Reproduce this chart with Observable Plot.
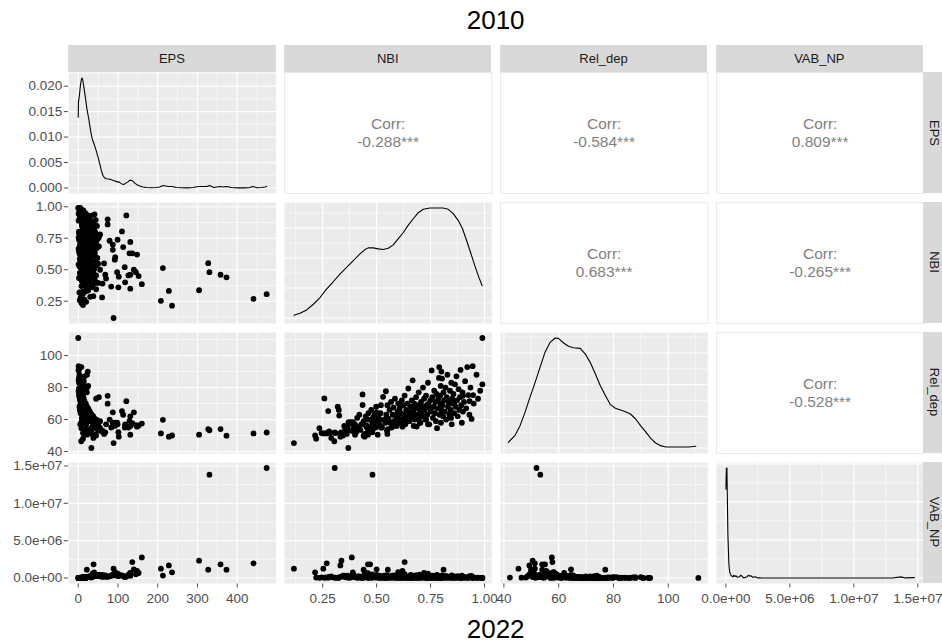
<!DOCTYPE html>
<html>
<head>
<meta charset="utf-8">
<script src="https://cdn.jsdelivr.net/npm/d3@7"></script>
<script src="https://cdn.jsdelivr.net/npm/@observablehq/plot@0.6"></script>
<style>
html,body{margin:0;padding:0;background:#fff;}
#root{position:relative;width:942px;height:643px;overflow:hidden;font-family:"Liberation Sans",Arial,sans-serif;}
.strip{position:absolute;background:#D9D9D9;color:#1A1A1A;font-size:13px;}
.stripTop{display:flex;align-items:center;justify-content:center;}
.stripRight span{position:absolute;left:11.4px;top:50%;transform:translate(-50%,-50%) rotate(90deg);white-space:nowrap;line-height:13px;}
.title{position:absolute;left:68.3px;width:854.7px;text-align:center;font-size:26px;line-height:24px;color:#000;}
</style>
</head>
<body>
<div id="root"></div>
<script>
// ---------------- data ----------------
const VARS = ["EPS", "NBI", "Rel_dep", "VAB_NP"];
const TITLE_TOP = "2010";
const TITLE_BOTTOM = "2022";

const EPS = [
  0,474,330,441,373,358,327,304,236,228, 213,208,160,152,140,136,129,131,131,126,
  131,121,110,102,101,99,93,89,87,87, 83,79,74,74,70,68,60,61,65,117, 98,92,113,148,145,118,
  12,8,20,4,15,6,30,38,7.5,12, 3,10,18,25,45,20,35,33,8,14, 28,40,50,22,16,9,42,12,30,5,
  2,8,24,36,18,45,10,6,28,38.5, 4,32,14,20,26,38,11,55,40,17, 9,22,5,34,3,46,13,1,29,7,
  50,19,11,36,6,44,24,15,31,4, 21,48,9,13,27,8,39,17,5,23, 12,33,3,42,19,28,9,2,15,37,
  10,25,7,1,20,47,14,32,18,6, 52,27,11,4,35,22,44,9,24,16, 19,35,45,19,41,5,13,29,2,11,
  49,21,14,27,1,52,39,17,12,30, 10,46,6,55,23,12,2,8,34,15, 25,26,24,43,9,2,18,37,21.7,11,
  28,15,40,13,22,20,16,32,18,24, 10,47,10,35,19,9,30,12,22,16, 14,38,20,26,12,1,17,44,10,29,
  15,14,25,4,8,33,22,41,1,11, 18,3,13,7,5
];
const NBI = [
  .99,.306,.481,.269,.44,.46,.552,.337,.215,.332, .513,.253,.385,.45,.50,.63,.63,.72,.46,.455,
  .35,.931,.804,.445,.36,.738,.60,.117,.658,.70, .366,.73,.90,.86,.43,.46,.28,.39,.55,.52, .48,.58,.68,.62,.48,.40,
  .22,.235,.245,.258,.265,.276,.285,.29,.304,.31, .32,.325,.327,.335,.345,.355,.362,.369,.37,.38,
  .385,.39,.395,.40,.405,.41,.415,.42,.425,.43, .435,.435,.44,.445,.45,.455,.46,.462,.468,.47,
  .475,.48,.483,.487,.49,.495,.498,.50,.505,.51, .513,.518,.52,.525,.53,.535,.54,.543,.545,.55,
  .548,.555,.56,.562,.567,.57,.575,.578,.58,.585, .59,.593,.597,.60,.603,.607,.61,.613,.617,.62,
  .623,.627,.63,.633,.637,.64,.643,.647,.65,.653, .657,.66,.663,.667,.67,.672,.675,.678,.68,.683,
  .686,.69,.692,.695,.697,.70,.703,.706,.709,.712, .715,.718,.72,.723,.726,.729,.732,.735,.738,.741,
  .744,.747,.749,.752,.755,.758,.761,.764,.767,.77, .772,.775,.778,.78,.783,.786,.789,.79,.792,.795,
  .797,.80,.80,.798,.795,.803,.806,.808,.81,.813, .816,.819,.822,.825,.828,.831,.834,.837,.84,.843,
  .846,.848,.85,.845,.853,.856,.86,.863,.866,.87, .873,.876,.88,.883,.886,.889,.892,.895,.898,.90,
  .905,.91,.915,.92,.925,.93,.935,.94,.945,.947, .95,.963,.97,.98,.99
];
const REL = [
  111,51.9,53.3,51.3,49.9,54,54,50.5,50,49.3, 59.8,51.3,57.5,56.3,64.5,57.7,59.2,62,50.5,55,
  56,71.5,65.3,49.3,52.1,57,58,45.3,64.5,58, 55,60,74.8,69.9,57,52,52.5,53,51,55, 58,56,63,55.5,56.5,57,
  48,54.6,51.5,73.2,51.5,65.3,51.8,48.5,46.4,51.5, 68,66,62.5,52,50,54,51,42.2,58.3,58.3,
  53,58.3,55,50.5,52,61,55,63,53.5,57, 75.7,69.1,59,51,62,56,60,64,54,55,
  66,52,61,57,63,55,68,59,50.5,61, 57,64,69,55,74.2,60,58,77.7,63,69,
  53,60.5,66,58,71,55,63,67.5,59,73, 62,56,65,70,61,67,58,64,72,60,
  69,63,75,57,66,61.5,70,79.4,64.5,59, 68,62,72,84.5,65,56,70,60,67,74,
  55.6,63,69,77,61,66,58,71,64,68, 80,62,73,66,60,75,69,63,83,70,
  57,67,72,65,90.7,74,61,68,78,64, 71,59,76,54.6,67,73,86,92.8,63,70,
  81,66,90,58,75,85.6,69,62,77,72, 65,80,60,74,88,68,71,63,78,66,
  83,57,73,61,70,76,64,82,68,87, 72,62,79,66,74,91,69,58,77,65,
  71,84,67,92.8,75.3,63,80,60.4,93.4,75.3, 70,88,73,78,82
];
const VAB = [
  5e3,1.473e7,1.384e7,1.96e6,1.12e6,1.83e6,1.12e6,2.32e6,7.6e5,1.69e6, 3.2e5,1.25e6,2.76e6,6.7e5,1.16e6,2.14e6,5.2e5,7e5,6.5e5,4.2e5,
  3e5,2e5,3.5e5,4.8e5,2.5e5,6e5,8e5,1.25e6,4e5,4.5e5, 3e5,2.5e5,1.5e5,2.2e5,1.8e5,3.5e5,1.5e5,4.2e5,2e5,1.5e5, 4e5,3.5e5,2.8e5,9.5e5,5e5,1.2e5,
  6e4,3e4,9e4,2e4,8e4,4e4,1.5e5,2e5,4e4,6e4, 1.5e4,5e4,9e4,1.8e5,3.3e5,1e5,2.2e5,6e4,4e4,7e4,
  1.4e5,7.6e5,2.8e5,1.2e5,9e4,3e4,2.6e5,5e4,1.7e5,2.5e4, 1e4,3e4,1.4e5,6e5,8e4,3e5,5e4,3e4,2e5,1.83e6,
  2e4,1.8e5,6e4,1.1e5,1.3e5,2.4e5,4e4,4e5,2.8e5,7e4, 4.5e4,1e5,2e4,2.1e5,1e4,3.2e5,6e4,5e3,1.4e5,3e4,
  3.8e5,9e4,4e4,2.3e5,2.5e4,3e5,1.2e5,6e4,1.7e5,1.5e4, 1e5,3.4e5,3.5e4,5e4,1.5e5,3e4,2.6e5,7e4,2e4,1.1e5,
  4e4,2e5,1e4,2.9e5,8e4,1.6e5,3.5e4,8e3,6e4,2.3e5, 4e4,1.3e5,2.5e4,5e3,9e4,3.3e5,5.5e4,1.9e5,7.5e4,2e4,
  3.8e5,1.5e5,4.5e4,1.2e4,2.1e5,1e5,3e5,3e4,1.2e5,6e4, 8e4,2.1e5,2.5e5,8e4,2.8e5,1.8e4,5e4,1.6e5,7e3,4e4,
  3.6e5,9e4,5.5e4,1.4e5,4e3,3e5,2.5e5,7e4,5e4,1.7e5, 3.5e4,3.2e5,2e4,4.2e5,1.1e5,4.5e4,6e3,3e4,2e5,6e4,
  1.2e5,1.3e5,1.1e5,2.9e5,3e4,8e3,7.5e4,2.3e5,1.12e6,4e4, 1.5e5,6e4,2.7e5,5e4,1e5,8.5e4,6.5e4,1.8e5,8e4,1.2e5,
  4e4,3.4e5,3.5e4,2.1e5,8e4,3e4,1.7e5,5e4,1e5,7e4, 5e4,2.4e5,9e4,1.3e5,4.5e4,3e3,7e4,3e5,3.5e4,1.6e5,
  6e4,6e4,1.3e5,1.5e4,2.5e4,2e5,1e5,2.8e5,4e3,4e4, 7.5e4,8e3,5e4,2.2e4,1.5e4
];

// kernel density curves
const DENS_EPS = [[0,0.0139],[0.5,0.0168],[3,0.0182],[6,0.0205],[9,0.0216],[11,0.0214],[14,0.0199],[18,0.0178],[22,0.0155],[27,0.0133],[31,0.0113],[35,0.0097],[40,0.0086],[45,0.0074],[50,0.006],[54,0.0048],[58,0.0035],[62,0.0025],[66,0.002],[71,0.0018],[80,0.0017],[87,0.0015],[95,0.0013],[104,0.0011],[110,0.0008],[114,0.0007],[119,0.0009],[125,0.0012],[129,0.0015],[134,0.0015],[138,0.0013],[143,0.0009],[149,0.0006],[155,0.0004],[163,0.0002],[172,0.0001],[185,0.00005],[197,0.0001],[205,0.0002],[213,0.0005],[220,0.0004],[227,0.0003],[236,0.0003],[247,0.0001],[260,0.00004],[275,0.00003],[290,0.0001],[301,0.0003],[315,0.0003],[324,0.0003],[330,0.0005],[336,0.0003],[341,0.0001],[349,0.0002],[357,0.0003],[365,0.0002],[373,0.0003],[385,0.0001],[400,0.00003],[420,0.00002],[432,0.0001],[439,0.0003],[444,0.0002],[450,0.00005],[462,0.0001],[470,0.0002],[474,0.0003]];
const DENS_NBI = [[.117,.045],[.145,.078],[.176,.134],[.207,.229],[.238,.341],[.268,.481],[.299,.604],[.330,.733],[.361,.845],[.392,.956],[.423,1.068],[.446,1.141],[.461,1.169],[.484,1.169],[.508,1.152],[.531,1.141],[.554,1.163],[.577,1.219],[.600,1.320],[.623,1.421],[.646,1.544],[.670,1.655],[.693,1.756],[.716,1.812],[.747,1.834],[.778,1.834],[.808,1.834],[.832,1.812],[.855,1.739],[.878,1.628],[.898,1.488],[.917,1.292],[.935,1.096],[.955,.872],[.974,.677],[.989,.537]];
const DENS_REL = [[41.6,.00179],[44.0,.00389],[45.9,.00705],[47.7,.01126],[49.5,.0160],[51.4,.02074],[53.2,.02547],[55.0,.03021],[56.9,.03337],[58.7,.03474],[59.9,.03463],[61.8,.03316],[63.6,.03211],[65.4,.03168],[67.9,.03147],[69.7,.02968],[71.5,.02705],[73.4,.02337],[75.2,.01968],[77.1,.01653],[78.9,.01368],[80.7,.01253],[82.6,.0120],[84.4,.01147],[86.2,.01074],[88.1,.00916],[89.9,.00705],[91.7,.00516],[93.6,.00305],[95.4,.00158],[97.2,.00074],[99.1,.00032],[102.7,.00030],[107.6,.00032],[110.1,.00053]];
const DENS_VAB = [[3e3,2.33e-6],[1.5e4,2.6e-6],[3.5e4,2.89e-6],[8e4,2.89e-6],[1.1e5,2.2e-6],[1.56e5,1.15e-6],[2e5,0.7e-6],[2.34e5,0.36e-6],[3e5,0.15e-6],[3.64e5,0.1e-6],[4.2e5,0.06e-6],[4.8e5,0.05e-6],[5.5e5,0.03e-6],[6.2e5,0.07e-6],[7e5,0.04e-6],[7.8e5,0.06e-6],[8.5e5,0.03e-6],[9.5e5,0.02e-6],[1.05e6,0.03e-6],[1.15e6,0.07e-6],[1.25e6,0.05e-6],[1.35e6,0.01e-6],[1.5e6,0.01e-6],[1.65e6,0.03e-6],[1.75e6,0.07e-6],[1.85e6,0.05e-6],[1.95e6,0.06e-6],[2.1e6,0.02e-6],[2.3e6,0.03e-6],[2.45e6,0.003e-6],[3e6,0],[6e6,0],[1.3e7,0],[1.37e7,0.03e-6],[1.4e7,0.002e-6],[1.473e7,0.01e-6]];

const EPS_TICKS = [0, 100, 200, 300, 400];
const NBI_TICKS = [0.25, 0.5, 0.75, 1.0];
const REL_TICKS = [40, 60, 80, 100];
const VAB_TICKS = [0, 5e6, 1e7, 1.5e7];
const DENS_EPS_TICKS = [0, 0.005, 0.01, 0.015, 0.02];
const DENS_NBI_TICKS = [0, 0.5, 1, 1.5];
const DENS_REL_TICKS = [0, 0.01, 0.02, 0.03];
const DENS_VAB_TICKS = [0, 1e-6, 2e-6, 3e-6];

const CORR_PAIRS = [["EPS","NBI"],["EPS","Rel_dep"],["EPS","VAB_NP"],["NBI","Rel_dep"],["NBI","VAB_NP"],["Rel_dep","VAB_NP"]];
const CORR_VALUES = ["-0.288***", "-0.584***", "0.809***", "0.683***", "-0.265***", "-0.528***"];

// ---------------- layout ----------------
const COL_LEFT = [68.3, 284.1, 499.9, 715.7];
const ROW_TOP = [72, 201.9, 331.8, 461.7];
const PW = 207.3, PH = 121;
const ML = 68.3, MB = 52;
const FONT = '"Liberation Sans", Arial, sans-serif';

const fmtE = v => {
  const [m, e] = v.toExponential(1).split("e");
  return m + "e" + e[0] + e.slice(1).padStart(2, "0");
};
const COLS = {EPS, NBI, Rel_dep: REL, VAB_NP: VAB};
const TICKS = {EPS: EPS_TICKS, NBI: NBI_TICKS, Rel_dep: REL_TICKS, VAB_NP: VAB_TICKS};
const FMT = {EPS: d3.format("d"), NBI: d3.format(".2f"), Rel_dep: d3.format("d"), VAB_NP: fmtE};
const DENS = {EPS: DENS_EPS, NBI: DENS_NBI, Rel_dep: DENS_REL, VAB_NP: DENS_VAB};
const DENS_TICKS = {EPS: DENS_EPS_TICKS, NBI: DENS_NBI_TICKS, Rel_dep: DENS_REL_TICKS, VAB_NP: DENS_VAB_TICKS};

const expand = ([a, b]) => [a - 0.05 * (b - a), b + 0.05 * (b - a)];
const DOM = {};
for (const v of VARS) DOM[v] = expand(d3.extent(COLS[v]));
const DENS_DOM = {};
for (const v of VARS) DENS_DOM[v] = expand([0, d3.max(DENS[v], d => d[1])]);

const rows = EPS.map((e, i) => ({EPS: e, NBI: NBI[i], Rel_dep: REL[i], VAB_NP: VAB[i]}));

function inDom(vals, dom) { return vals.filter(v => v >= dom[0] && v <= dom[1]); }
function minorOf(ticks, dom) {
  const step = ticks[1] - ticks[0], out = [];
  for (let i = -1; i < ticks.length; i++) {
    const m = ticks[0] + (i + 0.5) * step;
    if (m > dom[0] && m < dom[1]) out.push(m);
  }
  return out;
}

const root = document.getElementById("root");
const baseStyle = {background: "transparent", fontFamily: FONT, fontSize: "13.5px", color: "#4D4D4D", overflow: "visible"};

function place(svg, left, top) {
  svg.style.position = "absolute";
  svg.style.left = left + "px";
  svg.style.top = top + "px";
  svg.style.maxWidth = "none";
  root.appendChild(svg);
}

function gridPanel(r, c, yDom, yTicks, yFmt, dataMarks) {
  const xv = VARS[c];
  const xDom = DOM[xv], xTicks = TICKS[xv];
  const showX = r === 3, showY = c === 0;
  const ml = showY ? ML : 0, mb = showX ? MB : 0;
  const svg = Plot.plot({
    width: PW + ml, height: PH + mb,
    marginLeft: ml, marginRight: 0, marginTop: 0, marginBottom: mb,
    x: {type: "linear", domain: xDom, ticks: xTicks, tickFormat: FMT[xv], tickSize: 4.5, tickPadding: 5, label: null, axis: showX ? "bottom" : null},
    y: {type: "linear", domain: yDom, ticks: yTicks, tickFormat: yFmt, tickSize: 4.5, tickPadding: 2, label: null, axis: showY ? "left" : null},
    style: baseStyle,
    marks: [
      Plot.frame({fill: "#EBEBEB", stroke: "none"}),
      Plot.ruleY(minorOf(yTicks, yDom), {stroke: "white", strokeWidth: 0.6}),
      Plot.ruleX(minorOf(xTicks, xDom), {stroke: "white", strokeWidth: 0.6}),
      Plot.ruleY(inDom(yTicks, yDom), {stroke: "white", strokeWidth: 1.2}),
      Plot.ruleX(inDom(xTicks, xDom), {stroke: "white", strokeWidth: 1.2}),
      ...dataMarks
    ]
  });
  place(svg, COL_LEFT[c] - ml, ROW_TOP[r]);
}

// lower triangle: scatter plots
for (let r = 1; r < 4; r++) {
  for (let c = 0; c < r; c++) {
    const xv = VARS[c], yv = VARS[r];
    gridPanel(r, c, DOM[yv], TICKS[yv], FMT[yv], [
      Plot.dot(rows, {x: xv, y: yv, r: 2.9, fill: "black", stroke: "none"})
    ]);
  }
}
// diagonal: densities
for (let k = 0; k < 4; k++) {
  const v = VARS[k];
  gridPanel(k, k, DENS_DOM[v], DENS_TICKS[v], d3.format(".3f"), [
    Plot.line(DENS[v], {x: d => d[0], y: d => d[1], stroke: "black", strokeWidth: 1.1})
  ]);
}
// upper triangle: correlations
CORR_PAIRS.forEach(([a, b], i) => {
  const c = VARS.indexOf(b), r = VARS.indexOf(a);
  const svg = Plot.plot({
    width: PW, height: PH, margin: 0,
    style: baseStyle,
    marks: [
      Plot.frame({fill: "white", stroke: "#EBEBEB", strokeWidth: 1.2}),
      Plot.text(["Corr:"], {text: d => d, frameAnchor: "middle", dy: -9, fill: "#7F7F7F", fontSize: 15.5}),
      Plot.text([CORR_VALUES[i]], {text: d => d, frameAnchor: "middle", dy: 9, fill: "#7F7F7F", fontSize: 15.5})
    ]
  });
  place(svg, COL_LEFT[c], ROW_TOP[r]);
});

// strips
VARS.forEach((v, i) => {
  const t = document.createElement("div");
  t.className = "strip stripTop";
  Object.assign(t.style, {left: COL_LEFT[i] + "px", top: "44.5px", width: PW + "px", height: "27.5px"});
  t.textContent = v;
  root.appendChild(t);
  const s = document.createElement("div");
  s.className = "strip stripRight";
  Object.assign(s.style, {left: "922.8px", top: ROW_TOP[i] + "px", width: "27.5px", height: PH + "px"});
  const sp = document.createElement("span");
  sp.textContent = v;
  s.appendChild(sp);
  root.appendChild(s);
});

// titles
const t1 = document.createElement("div");
t1.className = "title"; t1.style.top = "8px"; t1.textContent = TITLE_TOP;
root.appendChild(t1);
const t2 = document.createElement("div");
t2.className = "title"; t2.style.top = "617px"; t2.textContent = TITLE_BOTTOM;
root.appendChild(t2);

if (!(EPS.length === NBI.length && NBI.length === REL.length && REL.length === VAB.length)) {
  console.error("length mismatch", EPS.length, NBI.length, REL.length, VAB.length);
}
</script>
</body>
</html>
